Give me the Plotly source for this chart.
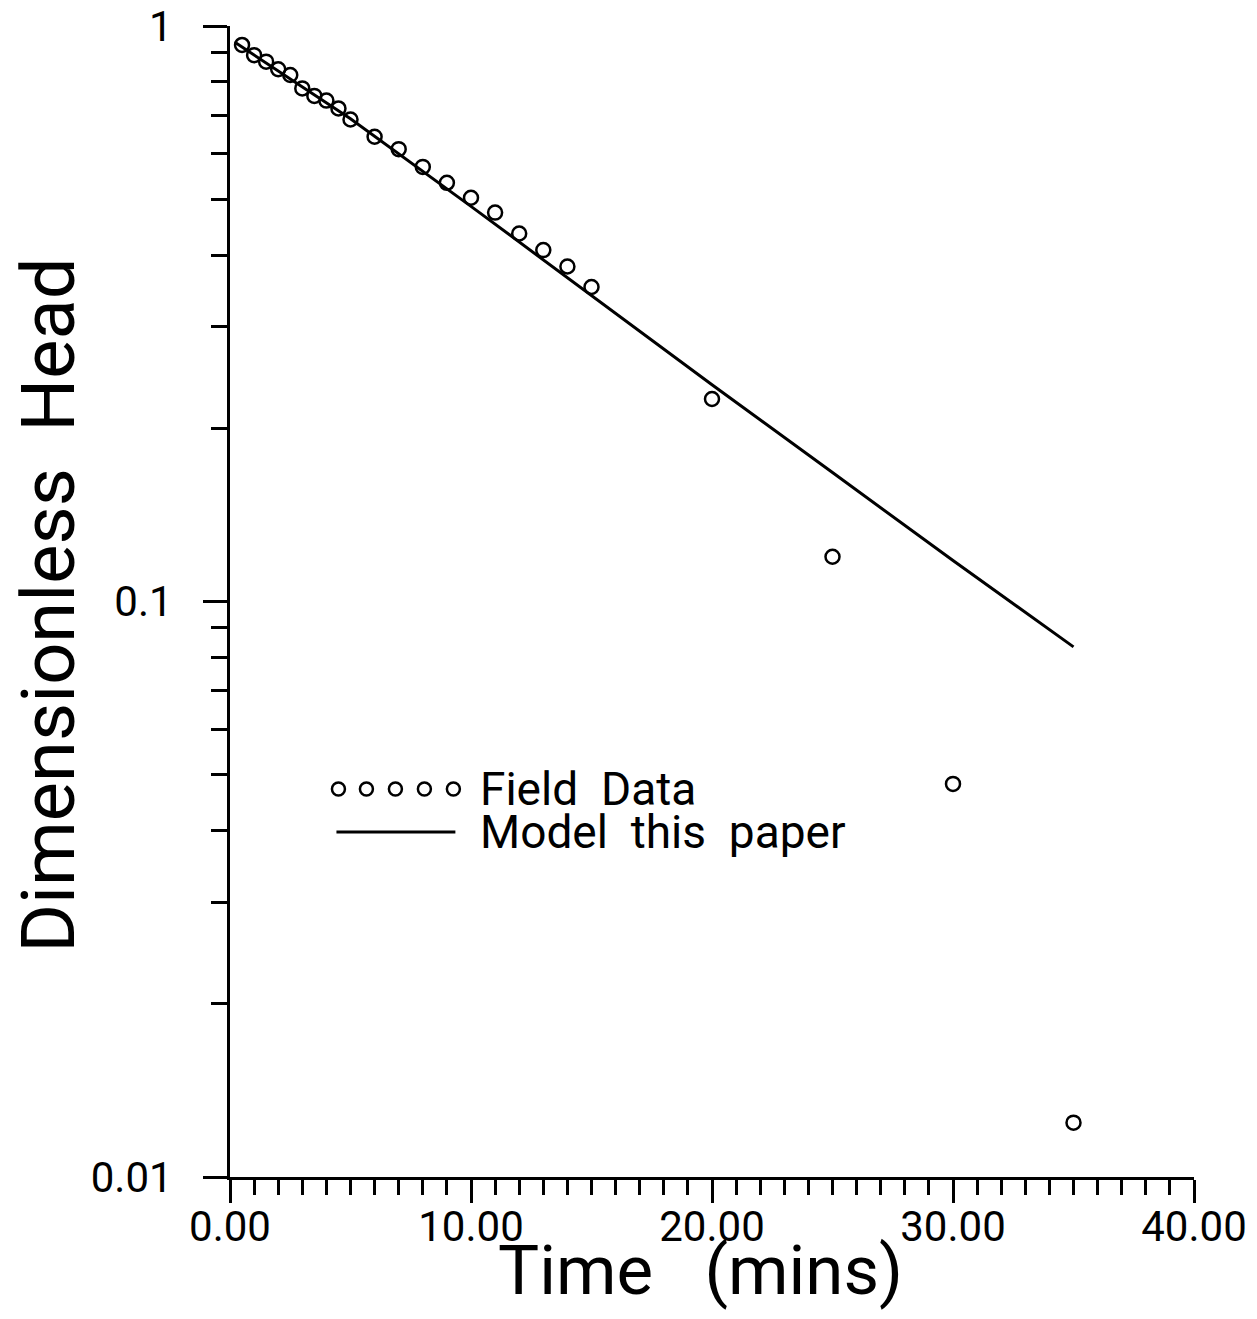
import plotly.graph_objects as go

# Field data (time in minutes, dimensionless head)
field_time = [0.5, 1.0, 1.5, 2.0, 2.5, 3.0, 3.5, 4.0, 4.5, 5.0,
              6.0, 7.0, 8.0, 9.0, 10.0, 11.0, 12.0, 13.0, 14.0, 15.0,
              20.0, 25.0, 30.0, 35.0]
field_head = [0.927, 0.890, 0.867, 0.841, 0.822, 0.779, 0.756, 0.742, 0.719, 0.688,
              0.642, 0.611, 0.569, 0.534, 0.503, 0.474, 0.436, 0.408, 0.382, 0.352,
              0.2248, 0.1196, 0.0482, 0.01243]

# Model curve ("Model this paper")
model_time = [0.25, 2.5, 5.0, 10.0, 15.0, 20.0, 25.0, 30.0, 35.0]
model_head = [0.934, 0.809, 0.690, 0.486, 0.340, 0.238, 0.1675, 0.1178, 0.0834]

y_tickvals = [0.01, 0.1, 1]
y_ticktext = ["0.01", "0.1", "1"]
x_tickvals = [0, 10, 20, 30, 40]
x_ticktext = ["0.00", "10.00", "20.00", "30.00", "40.00"]

FONT = "Roboto, 'Liberation Sans', sans-serif"
OFF = 8  # page body margin
W, H = 1257 - 2 * OFF, 1319 - 2 * OFF
# plot area in screen pixels: x 229.5..1194, y 26..1177
L, T = 229.5 - OFF, 26 - OFF
R = W - (1194 - OFF)
B = H - (1177 - OFF)
PW, PH = W - L - R, H - T - B


def px(x):
    return (x - OFF - L) / PW


def py(y):
    return (H - B - (y - OFF)) / PH


fig = go.Figure()

fig.add_trace(
    go.Scatter(
        x=model_time,
        y=model_head,
        mode="lines",
        line=dict(color="black", width=3),
        showlegend=False,
        hoverinfo="skip",
    )
)
fig.add_trace(
    go.Scatter(
        x=field_time,
        y=field_head,
        mode="markers",
        marker=dict(size=14, color="rgba(0,0,0,0)", symbol="circle",
                    line=dict(color="black", width=2.5)),
        showlegend=False,
    )
)

# hand-drawn legend key inside the plot
for cx in [338, 366, 395, 424, 453]:
    fig.add_shape(type="circle", xref="paper", yref="paper",
                  x0=px(cx - 6.5), x1=px(cx + 6.5), y0=py(789 + 6.5), y1=py(789 - 6.5),
                  line=dict(color="black", width=2.5))
fig.add_shape(type="line", xref="paper", yref="paper",
              x0=px(336), x1=px(455), y0=py(832), y1=py(832),
              line=dict(color="black", width=3))
fig.add_annotation(text="Field  Data", xref="paper", yref="paper",
                   x=px(478), y=py(789), xanchor="left", yanchor="middle",
                   showarrow=False, font=dict(family=FONT, size=46, color="black"))
fig.add_annotation(text="Model  this  paper", xref="paper", yref="paper",
                   x=px(478), y=py(832), xanchor="left", yanchor="middle",
                   showarrow=False, font=dict(family=FONT, size=46, color="black"))

# axis titles
fig.add_annotation(text="Time   (mins)", xref="paper", yref="paper",
                   x=px(700), y=py(1270), xanchor="center", yanchor="middle",
                   showarrow=False, font=dict(family=FONT, size=69, color="black"))
fig.add_annotation(text="Dimensionless  Head", xref="paper", yref="paper",
                   x=px(47), y=py(605), xanchor="center", yanchor="middle",
                   textangle=-90, showarrow=False,
                   font=dict(family=FONT, size=74, color="black"))

fig.update_layout(
    width=W,
    height=H,
    margin=dict(l=L, r=R, t=T, b=B),
    plot_bgcolor="white",
    paper_bgcolor="white",
    showlegend=False,
    xaxis=dict(
        range=[0, 40],
        automargin=False,
        showgrid=False,
        zeroline=False,
        showline=True,
        linecolor="black",
        linewidth=3,
        ticks="outside",
        ticklen=23,
        tickwidth=3,
        tickcolor="black",
        tickvals=x_tickvals,
        ticktext=x_ticktext,
        ticklabelstandoff=-12,
        ticklabeloverflow="allow",
        tickfont=dict(family=FONT, size=42, color="black"),
        minor=dict(ticks="outside", ticklen=15, tickwidth=3, tickcolor="black",
                   dtick=1, showgrid=False),
    ),
    yaxis=dict(
        type="log",
        range=[-2, 0],
        automargin=False,
        showgrid=False,
        zeroline=False,
        showline=True,
        linecolor="black",
        linewidth=3,
        ticks="outside",
        ticklen=24,
        tickwidth=3,
        tickcolor="black",
        tickvals=y_tickvals,
        ticktext=y_ticktext,
        ticklabelstandoff=22,
        ticklabeloverflow="allow",
        tickfont=dict(family=FONT, size=42, color="black"),
        minor=dict(ticks="outside", ticklen=16, tickwidth=3, tickcolor="black",
                   dtick="D1", showgrid=False),
    ),
)

fig.write_html("out.html")
